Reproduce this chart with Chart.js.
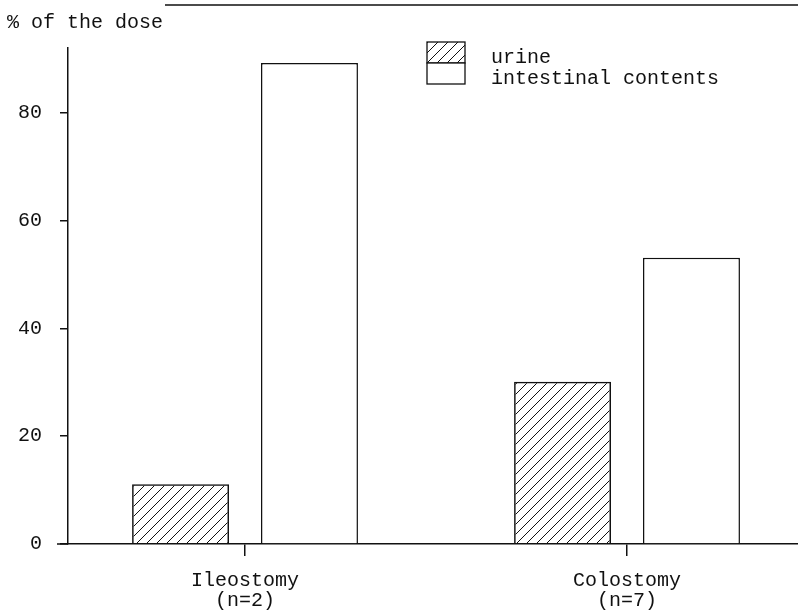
<!DOCTYPE html>
<html>
<head>
<meta charset="utf-8">
<script src="https://cdn.jsdelivr.net/npm/chart.js@4"></script>
<style>
  html, body { margin: 0; padding: 0; background: #fff; }
  #wrap { width: 798px; height: 610px; position: relative; }
</style>
</head>
<body>
<div id="wrap"><canvas id="chart" width="798" height="610"></canvas></div>
<script>
// ===========================
// DATA
// ===========================
const categories = [['Ileostomy', '(n=2)'], ['Colostomy', '(n=7)']];
const urine = [11.1, 30.1];
const intestinal = [89.2, 53.1];
const seriesNames = ['urine', 'intestinal contents'];
const yTicks = [0, 20, 40, 60, 80];

const FONT = "'Liberation Mono', 'DejaVu Sans Mono', monospace";
const INK = '#111';

// diagonal hatch for the urine bars
function makeHatch() {
  const s = 10;
  const c = document.createElement('canvas');
  c.width = s; c.height = s;
  const g = c.getContext('2d');
  g.strokeStyle = INK;
  g.lineWidth = 1;
  g.beginPath();
  g.moveTo(0, s); g.lineTo(s, 0);
  g.moveTo(-1, 1); g.lineTo(1, -1);
  g.moveTo(s - 1, s + 1); g.lineTo(s + 1, s - 1);
  g.stroke();
  return g.createPattern(c, 'repeat');
}
const hatch = makeHatch();

// ===========================
// DECORATIONS: title, frame line, legend
// ===========================
const decor = {
  id: 'decor',
  afterDraw(chart) {
    const ctx = chart.ctx;
    const area = chart.chartArea;
    ctx.save();
    ctx.fillStyle = INK;
    ctx.font = '20px ' + FONT;
    ctx.textBaseline = 'alphabetic';
    ctx.fillText('% of the dose', 7, 28);

    ctx.strokeStyle = INK;
    ctx.lineWidth = 1.5;
    ctx.beginPath();
    ctx.moveTo(165, 5); ctx.lineTo(area.right, 5);
    // x axis runs a little past the y axis
    ctx.moveTo(57, area.bottom); ctx.lineTo(area.left, area.bottom);
    ctx.stroke();

    // legend: two stacked boxes
    const bx = 427, bw = 38, bh = 21, by = 42;
    chart.data.datasets.forEach((ds, i) => {
      const y = by + i * bh;
      ctx.fillStyle = ds.backgroundColor;
      ctx.fillRect(bx, y, bw, bh);
      ctx.strokeStyle = INK;
      ctx.lineWidth = 1.3;
      ctx.strokeRect(bx, y, bw, bh);
      ctx.fillStyle = INK;
      ctx.fillText(ds.label, 491, 63 + i * 21);
    });
    ctx.restore();
  }
};

// ===========================
// CHART
// ===========================
new Chart(document.getElementById('chart'), {
  type: 'bar',
  data: {
    datasets: [
      {
        label: seriesNames[0],
        data: urine.map((v, i) => ({ x: i, y: v })),
        backgroundColor: hatch,
        borderColor: INK,
        borderWidth: 1.5,
        borderSkipped: 'bottom'
      },
      {
        label: seriesNames[1],
        data: intestinal.map((v, i) => ({ x: i, y: v })),
        backgroundColor: '#fff',
        borderColor: INK,
        borderWidth: 1.5,
        borderSkipped: 'bottom'
      }
    ]
  },
  options: {
    responsive: false,
    animation: false,
    devicePixelRatio: 1,
    categoryPercentage: 0.675,
    barPercentage: 0.752,
    layout: { padding: { top: 48, left: 0, right: 0, bottom: 0 } },
    plugins: {
      legend: { display: false },
      tooltip: { enabled: false }
    },
    scales: {
      x: {
        type: 'linear',
        offset: false,
        min: -0.4634,
        max: 1.4476,
        afterBuildTicks: (s) => { s.ticks = categories.map((c, i) => ({ value: i })); },
        afterFit: (s) => { s.height = 66; },
        grid: { offset: false, drawOnChartArea: false, color: INK, tickLength: 12, lineWidth: 1.5 },
        border: { display: true, color: INK, width: 1.5 },
        ticks: {
          color: INK,
          padding: 15,
          maxRotation: 0,
          font: { family: FONT, size: 20, lineHeight: 1.0 },
          callback: (v) => categories[v]
        }
      },
      y: {
        min: 0,
        max: 92,
        afterBuildTicks: (s) => { s.ticks = yTicks.map(v => ({ value: v })); },
        afterFit: (s) => { s.width = 68; },
        grid: { drawOnChartArea: false, color: INK, tickLength: 8, lineWidth: 1.5 },
        border: { display: true, color: INK, width: 1.5 },
        ticks: {
          color: INK,
          padding: 18,
          font: { family: FONT, size: 20 }
        }
      }
    }
  },
  plugins: [decor]
});
</script>
</body>
</html>
